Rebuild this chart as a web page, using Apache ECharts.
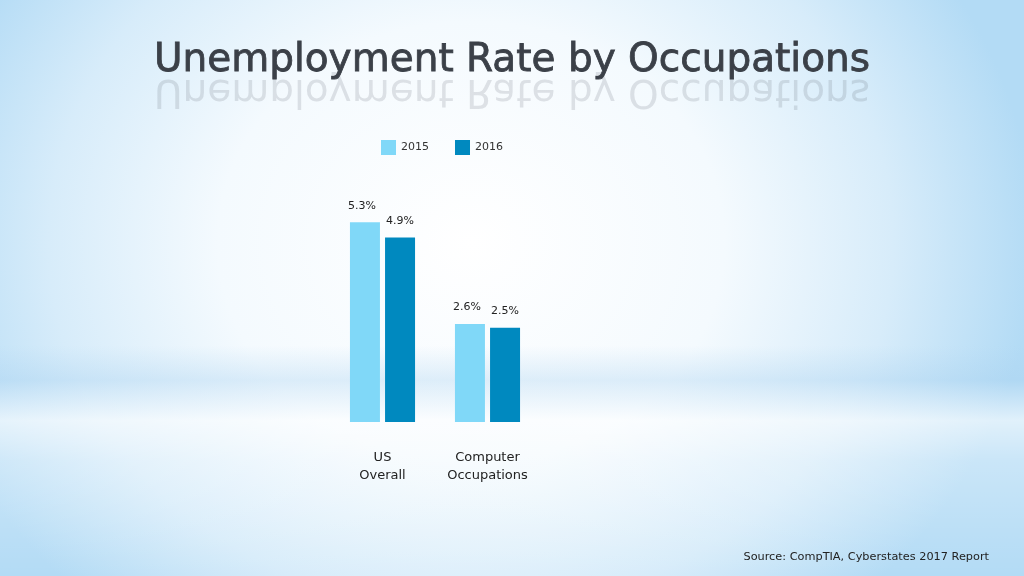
<!DOCTYPE html>
<html>
<head>
<meta charset="utf-8">
<script src="https://cdn.jsdelivr.net/npm/echarts@6/dist/echarts.min.js"></script>
<style>
  html, body { margin: 0; padding: 0; }
  #chart {
    width: 1024px; height: 576px;
    background:
      linear-gradient(180deg, rgba(255,255,255,0) 0%, rgba(255,255,255,0) 60%, rgba(170,210,240,0.35) 66%, rgba(255,255,255,0.6) 73%, rgba(255,255,255,0.3) 80%, rgba(255,255,255,0) 100%),
      radial-gradient(ellipse 55% 85% at 46% 42%, #ffffff 0%, #f4fafe 45%, #d7ecfa 75%, #b3dbf5 100%);
  }
</style>
</head>
<body>
<div id="chart"></div>
<script>
var categories = ['US\nOverall', 'Computer\nOccupations'];
var series_names = ['2015', '2016'];
var values_2015 = [5.3, 2.6];
var values_2016 = [4.9, 2.5];

var title_text = 'Unemployment Rate by Occupations';
var source_text = 'Source: CompTIA, Cyberstates 2017 Report';

function get_chart_option() {
    var font = 'DejaVu Sans';
    return {
        backgroundColor: 'transparent',
        textStyle: { fontFamily: font },
        title: {
            text: title_text,
            left: 'center',
            top: 36,
            z: 5,
            textStyle: {
                fontFamily: font,
                fontSize: 39,
                fontWeight: 'normal',
                color: '#3b4048',
                textBorderColor: '#3b4048',
                textBorderWidth: 0.8
            }
        },
        graphic: [
            {
                // 标题倒影
                type: 'text',
                left: 'center',
                top: 71,
                scaleY: -1,
                z: 1,
                style: {
                    text: title_text,
                    fontFamily: font,
                    fontSize: 39,
                    fill: 'rgba(80,90,100,0.16)'
                }
            },
            {
                type: 'text',
                right: 35,
                top: 552,
                style: {
                    text: source_text,
                    fontFamily: font,
                    fontSize: 11.3,
                    fill: '#222'
                }
            }
        ],
        legend: {
            data: series_names,
            top: 135,
            left: 376,
            itemWidth: 15,
            itemHeight: 15,
            itemGap: 26,
            icon: 'rect',
            textStyle: { fontSize: 11, color: '#333', fontFamily: font }
        },
        grid: {
            left: 330,
            width: 210,
            top: 196,
            height: 226
        },
        xAxis: {
            type: 'category',
            data: categories,
            axisLine: { show: false },
            axisTick: { show: false },
            axisLabel: {
                interval: 0,
                margin: 27,
                fontSize: 13,
                lineHeight: 18,
                color: '#222',
                fontFamily: font
            }
        },
        yAxis: {
            type: 'value',
            min: 0,
            max: 6,
            show: false,
            splitLine: { show: false }
        },
        series: [
            {
                name: series_names[0],
                type: 'bar',
                data: values_2015,
                barWidth: 30,
                barGap: '17%',
                itemStyle: { color: '#80d8f8' },
                label: {
                    show: true,
                    position: 'top',
                    distance: 11,
                    offset: [-3, 0],
                    formatter: '{c}%',
                    fontSize: 11,
                    color: '#222',
                    fontFamily: font
                }
            },
            {
                name: series_names[1],
                type: 'bar',
                data: values_2016,
                barWidth: 30,
                barGap: '17%',
                itemStyle: { color: '#0089bf' },
                label: {
                    show: true,
                    position: 'top',
                    distance: 11,
                    formatter: '{c}%',
                    fontSize: 11,
                    color: '#222',
                    fontFamily: font
                }
            }
        ]
    };
}

var chart = echarts.init(document.getElementById('chart'));
chart.setOption(get_chart_option());
</script>
</body>
</html>
